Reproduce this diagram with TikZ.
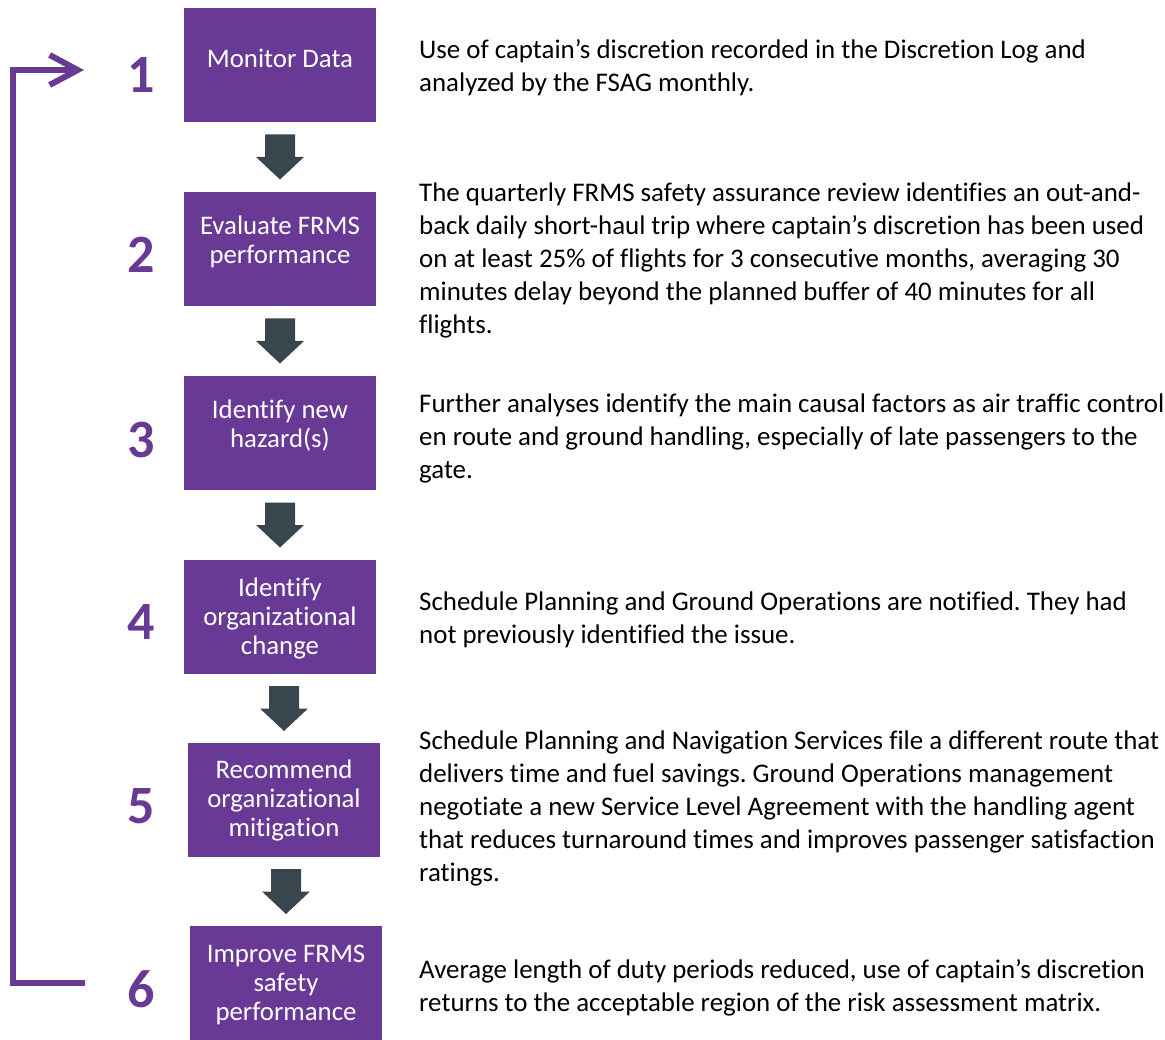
\documentclass[tikz,border=0pt]{standalone}
\usepackage{fontspec}
\setmainfont{Carlito}[Ligatures={NoCommon}]
\usetikzlibrary{arrows.meta,calc}
\definecolor{frmspurple}{RGB}{104,58,150}
\definecolor{arrowgray}{RGB}{58,70,78}
\frenchspacing
\begin{document}
\begin{tikzpicture}[x=1pt,y=-1pt,
 box/.style={fill=frmspurple, draw=none, minimum width=192pt, minimum height=114pt, inner sep=0pt},
 boxtext/.style={text=white, font=\fontsize{26.8}{29}\selectfont, align=center, inner sep=0pt},
 num/.style={text=frmspurple, font=\fontsize{54}{54}\selectfont\bfseries, inner sep=0pt},
 desc/.style={font=\fontsize{26.9}{33}\selectfont, align=left, anchor=west, inner sep=0pt},
 blockarrow/.style={fill=arrowgray, draw=none},
 loopline/.style={draw=frmspurple, line width=6pt, line join=miter}
]
\useasboundingbox (0,0) rectangle (1165,1040);

% boxes
\node[box] (b1) at (280,65) {};
\node[box] (b2) at (280,249) {};
\node[box] (b3) at (280,433) {};
\node[box] (b4) at (280,617) {};
\node[box] (b5) at (284,800) {};
\node[box] (b6) at (286,983) {};

% box texts
\node[boxtext] (t1) at (280,58.5) {Monitor Data};
\node[boxtext] (t2) at (280,242) {Evaluate FRMS\\performance};
\node[boxtext] (t3) at (280,426) {Identify new\\hazard(s)};
\node[boxtext] (t4) at (280,618.5) {Identify\\organizational\\change};
\node[boxtext] (t5) at (284,800.5) {Recommend\\organizational\\mitigation};
\node[boxtext] (t6) at (286,984.5) {Improve FRMS\\safety\\performance};

% numbers
\node[num] (n1) at (141,74.5) {1};
\node[num] (n2) at (141,255) {2};
\node[num] (n3) at (141,440) {3};
\node[num] (n4) at (141,622) {4};
\node[num] (n5) at (141,806) {5};
\node[num] (n6) at (141,989.5) {6};

% block arrows between boxes
\foreach \a/\b in {b1/b2,b2/b3,b3/b4,b4/b5,b5/b6}{
  \coordinate (m\a\b) at (\b.north |- {$(\a.south)!0.5!(\b.north)$});
  \fill[blockarrow] (m\a\b) ++(-15,-22.5) -- ++(30,0) -- ++(0,22.5) -- ++(9,0)
     -- ++(-24,22.5) -- ++(-24,-22.5) -- ++(9,0) -- cycle;
}

% descriptions
\node[desc] (d1) at (419,67.5) {Use of captain’s discretion recorded in the Discretion Log and\\analyzed by the FSAG monthly.};
\node[desc] (d2) at (419,260.5) {The quarterly FRMS safety assurance review identifies an out-and-\\back daily short-haul trip where captain’s discretion has been used\\on at least 25\% of flights for 3 consecutive months, averaging 30\\minutes delay beyond the planned buffer of 40 minutes for all\\flights.};
\node[desc] (d3) at (419,438) {Further analyses identify the main causal factors as air traffic control\\en route and ground handling, especially of late passengers to the\\gate.};
\node[desc] (d4) at (419,619.5) {Schedule Planning and Ground Operations are notified. They had\\not previously identified the issue.};
\node[desc] (d5) at (419,808) {Schedule Planning and Navigation Services file a different route that\\delivers time and fuel savings. Ground Operations management\\negotiate a new Service Level Agreement with the handling agent\\that reduces turnaround times and improves passenger satisfaction\\ratings.};
\node[desc] (d6) at (419,987.5) {Average length of duty periods reduced, use of captain’s discretion\\returns to the acceptable region of the risk assessment matrix.};

% feedback loop
\coordinate (loopstart) at (85,983);
\coordinate (loopend) at (84,70);
\draw[loopline, -{Straight Barb[length=28pt,width=30pt]}]
  (loopstart) -- (12.5,983) -- (12.5,70) -- (loopend);
\end{tikzpicture}
\end{document}
